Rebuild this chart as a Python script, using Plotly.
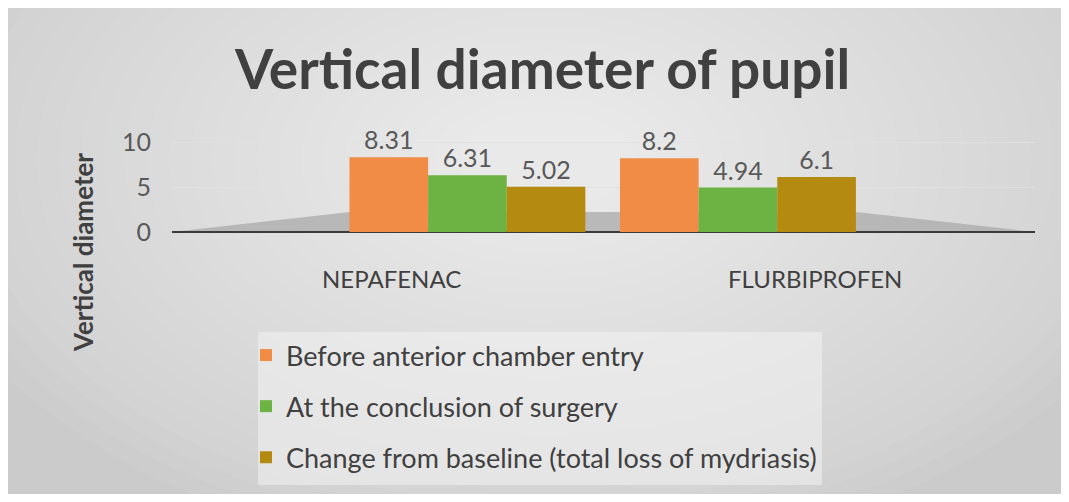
import plotly.graph_objects as go

categories = ["NEPAFENAC", "FLURBIPROFEN"]
series_names = [
    "Before anterior chamber entry",
    "At the conclusion of surgery",
    "Change from baseline (total loss of mydriasis)",
]
before_entry = [8.31, 8.2]
at_conclusion = [6.31, 4.94]
change_baseline = [5.02, 6.1]
y_ticks = [0, 5, 10]

colors = ["#F08C45", "#6DB344", "#B58A10"]
# page has an 8px body margin; figure fills the rest of the 1069x502 window
OFF = 8
W, H = 1069 - 2 * OFF, 502 - 2 * OFF


def px(x):
    return (x - OFF) / W


def py(y):
    return 1 - (y - OFF) / H


fig = go.Figure()
for i, (name, vals) in enumerate(zip(series_names, [before_entry, at_conclusion, change_baseline])):
    fig.add_trace(go.Bar(
        x=categories, y=vals, name=name,
        marker=dict(color=colors[i], line=dict(width=0)),
        text=vals, texttemplate="%{y}", textposition="outside",
        textfont=dict(family="Lato", size=25, color="#595959"),
        cliponaxis=False, legendgroup=f"g{i}",
    ))

shapes = []
shapes.append(dict(type="rect", xref="paper", yref="paper", x0=0, x1=1, y0=0, y1=1,
                   fillcolor="#cbcbcb", line=dict(width=0), layer="below"))
n = 26
for k in range(n):
    rx = 640 - k * 22
    ry = 400 - k * 14
    cx, cy = 545, 160
    shapes.append(dict(type="circle", xref="paper", yref="paper",
                       x0=px(cx - rx), x1=px(cx + rx), y0=py(cy + ry), y1=py(cy - ry),
                       fillcolor="rgba(255,255,255,0.045)", line=dict(width=0), layer="below"))
# floor
shapes.append(dict(type="path", xref="paper", yref="paper",
                   path=f"M {px(172)},{py(232)} L {px(350)},{py(212)} L {px(856)},{py(212)} L {px(1035)},{py(232)} Z",
                   fillcolor="rgba(170,170,170,0.75)", line=dict(width=0), layer="below"))
# legend panel
shapes.append(dict(type="rect", xref="paper", yref="paper", x0=px(258), x1=px(822), y0=py(485), y1=py(332),
                   fillcolor="rgba(242,242,242,0.55)", line=dict(width=0), layer="below"))

annotations = [
    dict(text="<b>Vertical diameter of pupil</b>", x=px(542), y=py(68), xref="paper", yref="paper",
         showarrow=False, font=dict(family="Lato", size=55, color="#404040"), xanchor="center", yanchor="middle"),
    dict(text="<b>Vertical diameter</b>", x=px(83), y=py(253), xref="paper", yref="paper", textangle=-90,
         showarrow=False, font=dict(family="Lato", size=26, color="#404040"), xanchor="center", yanchor="middle"),
    dict(text=categories[0], x=px(391), y=py(278), xref="paper", yref="paper", showarrow=False,
         font=dict(family="Lato", size=24, color="#404040"), xanchor="center", yanchor="middle"),
    dict(text=categories[1], x=px(815), y=py(278), xref="paper", yref="paper", showarrow=False,
         font=dict(family="Lato", size=24, color="#404040"), xanchor="center", yanchor="middle"),
]

fig.update_layout(
    width=W, height=H,
    margin=dict(l=0, r=0, t=0, b=0, autoexpand=False),
    paper_bgcolor="#cbcbcb", plot_bgcolor="rgba(0,0,0,0)",
    barmode="group", bargap=0.128, bargroupgap=0,
    shapes=shapes, annotations=annotations,
    xaxis=dict(domain=[px(172), px(1035)], range=[-1.092, 2.098], showticklabels=False,
               showgrid=False, zeroline=False, showline=False, fixedrange=True),
    yaxis=dict(domain=[py(232), py(124)], range=[0, 12], tickvals=y_ticks,
               tickfont=dict(family="Lato", size=25, color="#595959"), ticklabelstandoff=20,
               showgrid=True, gridcolor="rgba(225,225,225,0.9)", gridwidth=1,
               zeroline=True, zerolinecolor="#3a3a3a", zerolinewidth=2, showline=False),
    legend=dict(x=px(246), y=py(331), xanchor="left", yanchor="top", bgcolor="rgba(0,0,0,0)",
                font=dict(family="Lato", size=27, color="#404040"), tracegroupgap=13,
                itemwidth=30, traceorder="grouped"),
    showlegend=True,
)

fig.write_html("out.html", config={"displayModeBar": False})
